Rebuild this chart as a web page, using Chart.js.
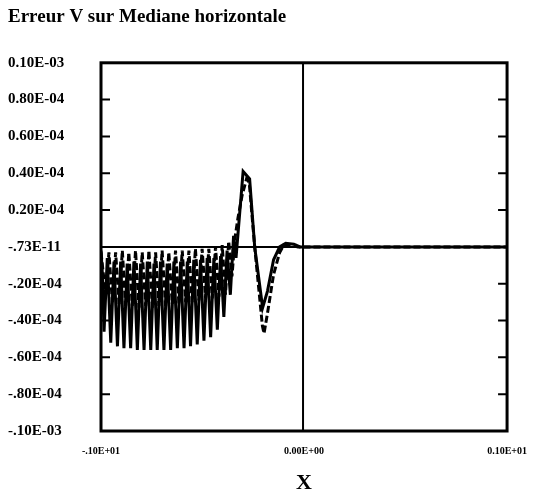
<!DOCTYPE html>
<html>
<head>
<meta charset="utf-8">
<script src="https://cdn.jsdelivr.net/npm/chart.js@4/dist/chart.umd.min.js"></script>
<style>
  html, body { margin: 0; padding: 0; background: #fff; }
  #wrap { width: 541px; height: 495px; }
</style>
</head>
<body>
<div id="wrap"><canvas id="c" width="541" height="495"></canvas></div>
<script>
// Solid curve: fast oscillation below zero, then one swing up and back
const solidX = [
  -1.000, -0.993,
  -0.985, -0.969, -0.952, -0.936, -0.919, -0.903, -0.887, -0.871,
  -0.854, -0.838, -0.821, -0.805, -0.788, -0.772, -0.755, -0.739,
  -0.723, -0.707, -0.690, -0.674, -0.657, -0.641, -0.624, -0.608,
  -0.591, -0.575, -0.559, -0.543, -0.526, -0.510, -0.493, -0.477,
  -0.460, -0.444, -0.427, -0.411, -0.395, -0.379, -0.363, -0.347,
  -0.335, -0.300, -0.268, -0.243, -0.204, -0.180, -0.150, -0.120,
  -0.090, -0.050, -0.020, 1.000
];
const solidY = [
  -0.2e-5, -1.5e-5,
  -4.6e-5, -0.6e-5, -5.2e-5, -0.8e-5, -5.4e-5, -0.8e-5, -5.5e-5, -0.9e-5,
  -5.5e-5, -0.8e-5, -5.6e-5, -0.9e-5, -5.6e-5, -0.8e-5, -5.6e-5, -0.9e-5,
  -5.6e-5, -0.8e-5, -5.6e-5, -0.9e-5, -5.6e-5, -0.8e-5, -5.5e-5, -0.8e-5,
  -5.5e-5, -0.8e-5, -5.4e-5, -0.7e-5, -5.3e-5, -0.7e-5, -5.1e-5, -0.6e-5,
  -4.9e-5, -0.6e-5, -4.5e-5, -0.5e-5, -3.8e-5, -0.2e-5, -2.6e-5, 0.6e-5,
  -0.6e-5, 4.1e-5, 3.7e-5, 0.0, -3.3e-5, -2.4e-5, -0.7e-5, 0.0,
  0.2e-5, 0.15e-5, 0.0, 0.0
];

// Dashed curve: same oscillation, shallower, deeper final dip
const dashX = [
  -1.000,
  -0.977, -0.961, -0.944, -0.928, -0.911, -0.895, -0.879, -0.863,
  -0.846, -0.830, -0.813, -0.797, -0.780, -0.764, -0.747, -0.731,
  -0.715, -0.699, -0.682, -0.666, -0.649, -0.633, -0.616, -0.600,
  -0.583, -0.567, -0.551, -0.535, -0.518, -0.502, -0.485, -0.469,
  -0.452, -0.436, -0.419, -0.403, -0.387, -0.371, -0.355, -0.340,
  -0.325, -0.305, -0.283, -0.270, -0.243, -0.205, -0.197, -0.180,
  -0.150, -0.120, -0.100, -0.070, -0.030, 1.000
];
const dashY = [
  -0.3e-5,
  -2.6e-5, -0.3e-5, -3.0e-5, -0.3e-5, -3.1e-5, -0.2e-5, -3.2e-5, -0.3e-5,
  -3.2e-5, -0.2e-5, -3.3e-5, -0.3e-5, -3.2e-5, -0.2e-5, -3.3e-5, -0.3e-5,
  -3.2e-5, -0.2e-5, -3.2e-5, -0.3e-5, -3.1e-5, -0.2e-5, -3.1e-5, -0.2e-5,
  -3.0e-5, -0.2e-5, -3.0e-5, -0.1e-5, -2.9e-5, -0.1e-5, -2.8e-5, -0.1e-5,
  -2.8e-5, 0.0, -2.7e-5, 0.1e-5, -2.6e-5, 0.3e-5, -1.6e-5, 0.5e-5,
  1.6e-5, 2.8e-5, 3.7e-5, 3.5e-5, 0.0, -4.3e-5, -4.7e-5, -3.6e-5,
  -1.5e-5, -0.3e-5, 0.1e-5, 0.1e-5, 0.0, 0.0
];

const yTickValues = [-1e-4, -8e-5, -6e-5, -4e-5, -2e-5, 0, 2e-5, 4e-5, 6e-5, 8e-5, 1e-4];
const yTickLabels = ['-.10E-03', '-.80E-04', '-.60E-04', '-.40E-04', '-.20E-04', '-.73E-11',
                     '0.20E-04', '0.40E-04', '0.60E-04', '0.80E-04', '0.10E-03'];
const xTickValues = [-1, 0, 1];
const xTickLabels = ['-.10E+01', '0.00E+00', '0.10E+01'];

const SERIF = "'Liberation Serif', 'DejaVu Serif', serif";

// Box frame, inward ticks and the two zero axes
const framePlugin = {
  id: 'frame',
  beforeDatasetsDraw(chart) {
    const { ctx, chartArea: a, scales: { x, y } } = chart;
    ctx.save();
    ctx.strokeStyle = '#000';
    ctx.lineWidth = 2;
    const y0 = y.getPixelForValue(0);
    const x0 = x.getPixelForValue(0) - 1;
    ctx.beginPath();
    ctx.moveTo(a.left, y0); ctx.lineTo(a.right, y0);
    ctx.moveTo(x0, a.top); ctx.lineTo(x0, a.bottom);
    ctx.stroke();
    ctx.restore();
  },
  afterDatasetsDraw(chart) {
    const { ctx, chartArea: a, scales: { y } } = chart;
    ctx.save();
    ctx.strokeStyle = '#000';
    ctx.lineWidth = 3;
    ctx.strokeRect(a.left, a.top, a.right - a.left, a.bottom - a.top);
    ctx.lineWidth = 2;
    ctx.beginPath();
    yTickValues.forEach(v => {
      if (v === yTickValues[0] || v === yTickValues[yTickValues.length - 1]) return;
      const py = y.getPixelForValue(v);
      ctx.moveTo(a.left, py); ctx.lineTo(a.left + 9, py);
      ctx.moveTo(a.right, py); ctx.lineTo(a.right - 9, py);
    });
    ctx.stroke();
    ctx.restore();
  }
};

new Chart(document.getElementById('c'), {
  type: 'line',
  data: {
    datasets: [
      {
        data: solidX.map((v, i) => ({ x: v, y: solidY[i] })),
        borderColor: '#000',
        borderWidth: 3,
        pointRadius: 0,
        tension: 0
      },
      {
        data: dashX.map((v, i) => ({ x: v, y: dashY[i] })),
        borderColor: '#000',
        borderWidth: 3,
        borderDash: [7, 3],
        pointRadius: 0,
        tension: 0
      }
    ]
  },
  options: {
    responsive: false,
    animation: false,
    events: [],
    layout: { padding: { top: 6, left: 8, right: 33, bottom: 0 } },
    plugins: {
      legend: { display: false },
      tooltip: { enabled: false },
      title: {
        display: true,
        text: 'Erreur V sur Mediane horizontale',
        align: 'start',
        color: '#000',
        font: { family: SERIF, size: 19, weight: 'bold' },
        padding: { top: 0, bottom: 34 }
      }
    },
    scales: {
      x: {
        type: 'linear',
        min: -1, max: 1,
        afterBuildTicks: s => { s.ticks = xTickValues.map(v => ({ value: v })); },
        afterFit: s => { s.height = 64; },
        grid: { display: false, drawTicks: false },
        border: { display: false },
        ticks: {
          padding: 14,
          maxRotation: 0,
          color: '#000',
          font: { family: SERIF, size: 10, weight: 'bold' },
          callback: (v) => xTickLabels[xTickValues.indexOf(v)]
        },
        title: {
          display: true,
          text: 'X',
          color: '#000',
          font: { family: SERIF, size: 22, weight: 'bold' },
          padding: { top: 0, bottom: -2 }
        }
      },
      y: {
        type: 'linear',
        min: -1e-4, max: 1e-4,
        afterBuildTicks: s => { s.ticks = yTickValues.map(v => ({ value: v })); },
        afterFit: s => { s.width = 93; },
        grid: { display: false, drawTicks: false },
        border: { display: false },
        ticks: {
          crossAlign: 'far',
          padding: 0,
          color: '#000',
          font: { family: SERIF, size: 15, weight: 'bold' },
          callback: (v) => yTickLabels[yTickValues.indexOf(v)]
        }
      }
    }
  },
  plugins: [framePlugin]
});
</script>
</body>
</html>
